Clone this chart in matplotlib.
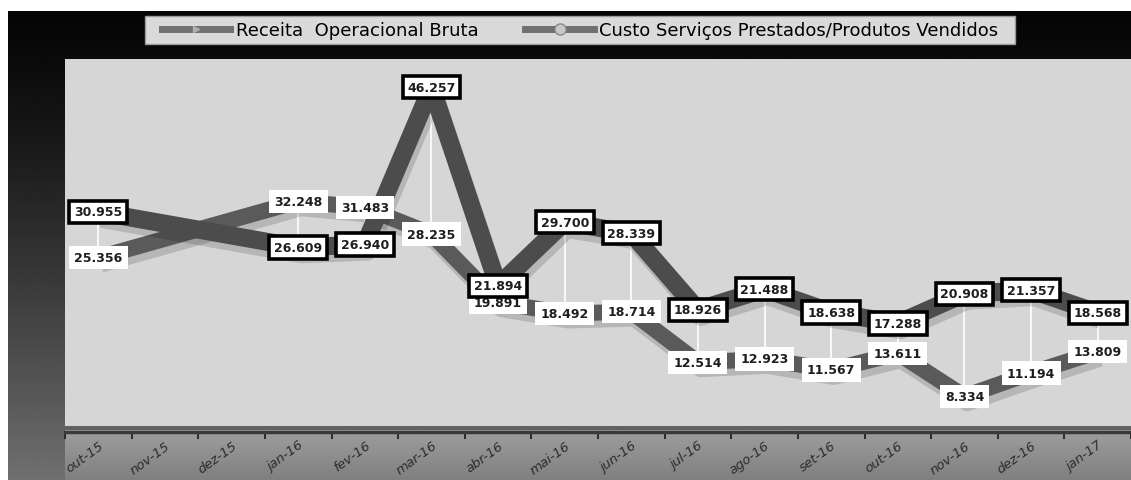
import numpy as np
import matplotlib
matplotlib.use("Agg")
import matplotlib.pyplot as plt
import matplotlib.patheffects as pe
from matplotlib.lines import Line2D
from matplotlib.patches import Rectangle

# valores em R$ mil
MONTHS = ["out-15", "nov-15", "dez-15", "jan-16", "fev-16", "mar-16", "abr-16", "mai-16",
          "jun-16", "jul-16", "ago-16", "set-16", "out-16", "nov-16", "dez-16", "jan-17"]
RECEITA = [30955, None, None, 26609, 26940, 46257, 21894, 29700, 28339,
           18926, 21488, 18638, 17288, 20908, 21357, 18568]
CUSTO = [25356, None, None, 32248, 31483, 28235, 19891, 18492, 18714,
         12514, 12923, 11567, 13611, 8334, 11194, 13809]
LABELS = ["Receita  Operacional Bruta", "Custo Serviços Prestados/Produtos Vendidos"]

W, H = 1131, 481


def fmt(v):
    return f"{int(v):,}".replace(",", ".")


fig = plt.figure(figsize=(W / 100, H / 100), dpi=100, facecolor="white")

# fundo: degrade do preto (topo) para cinza (base)
bg = fig.add_axes([8 / W, 0, 1 - 8 / W, 1 - 12 / H], zorder=-10)
t = np.linspace(0, 1, 300)[:, None]
bg.imshow(0.02 + 0.42 * t ** 1.3, cmap="gray", vmin=0, vmax=1, aspect="auto")
bg.axis("off")

band = fig.add_axes([65 / W, 0, 1 - 65 / W, 50 / H], zorder=-9)
band.imshow(np.linspace(0.62, 0.5, 100)[:, None], cmap="gray", vmin=0, vmax=1, aspect="auto")
band.axis("off")

ax = fig.add_axes([65 / W, 1 - 427 / H, 1 - 65 / W, (427 - 60) / H])
ax.set_facecolor("#d6d6d6")
ax.set_xlim(-0.5, 15.33)
ax.set_ylim(4700, 49700)

x = np.arange(len(MONTHS))
rec = np.array(RECEITA, dtype=float)
cus = np.array(CUSTO, dtype=float)
ok = ~np.isnan(rec)

shadow = [pe.SimpleLineShadow(offset=(2, -5), shadow_color="black", alpha=0.15), pe.Normal()]
ax.vlines(x[ok], cus[ok], rec[ok], color="white", lw=1.2, zorder=1.5)
ax.plot(x[ok], cus[ok], color="#5a5a5a", lw=11.5, solid_joinstyle="round",
        solid_capstyle="butt", path_effects=shadow, zorder=2)
ax.plot(x[ok], rec[ok], color="#4c4c4c", lw=13, solid_joinstyle="round",
        solid_capstyle="butt", path_effects=shadow, zorder=3)

for xi, v in zip(x[ok], rec[ok]):
    ax.text(xi, v, fmt(v), ha="center", va="center", fontsize=9, fontweight="bold",
            color="#1e1e1e", zorder=6,
            bbox=dict(boxstyle="square,pad=0.38", fc="white", ec="black", lw=2.6))
for xi, v in zip(x[ok], cus[ok]):
    ax.text(xi, v, fmt(v), ha="center", va="center", fontsize=9, fontweight="bold",
            color="#1e1e1e", zorder=5,
            bbox=dict(boxstyle="square,pad=0.42", fc="white", ec="none"))

for s in ["top", "left", "right"]:
    ax.spines[s].set_visible(False)
ax.spines["bottom"].set_position(("outward", 4))
ax.spines["bottom"].set_color("#3a3a3a")
ax.spines["bottom"].set_linewidth(2.5)
ax.set_yticks([])
ax.set_xticks(x)
ax.set_xticklabels(MONTHS, rotation=36, ha="right", rotation_mode="anchor",
                   fontsize=9.5, color="#2c2c2c", style="italic")
ax.set_xticks(np.arange(-0.5, 16, 1), minor=True)
ax.tick_params(axis="x", which="major", length=0, pad=5)
ax.tick_params(axis="x", which="minor", length=5, width=1.3, color="#222222", direction="out")

# legenda
fig.patches.append(Rectangle((145 / W, 1 - 45 / H), 870 / W, 28 / H,
                             transform=fig.transFigure, fc="#dadada", ec="#9a9a9a",
                             lw=1, zorder=-1))
handles = [
    Line2D([], [], color="#707070", lw=5, marker=">", ms=5, mfc="#b0b0b0", mec="#b0b0b0"),
    Line2D([], [], color="#707070", lw=5, marker="o", ms=8, mfc="#c8c8c8", mec="#8a8a8a"),
]
fig.legend(handles, LABELS, loc="center", bbox_to_anchor=(580 / W, 1 - 31 / H), ncol=2,
           frameon=False, handlelength=3.8, handletextpad=0.3, columnspacing=2.6,
           prop={"size": 13})

fig.savefig("out.png", dpi=100, facecolor=fig.get_facecolor())
